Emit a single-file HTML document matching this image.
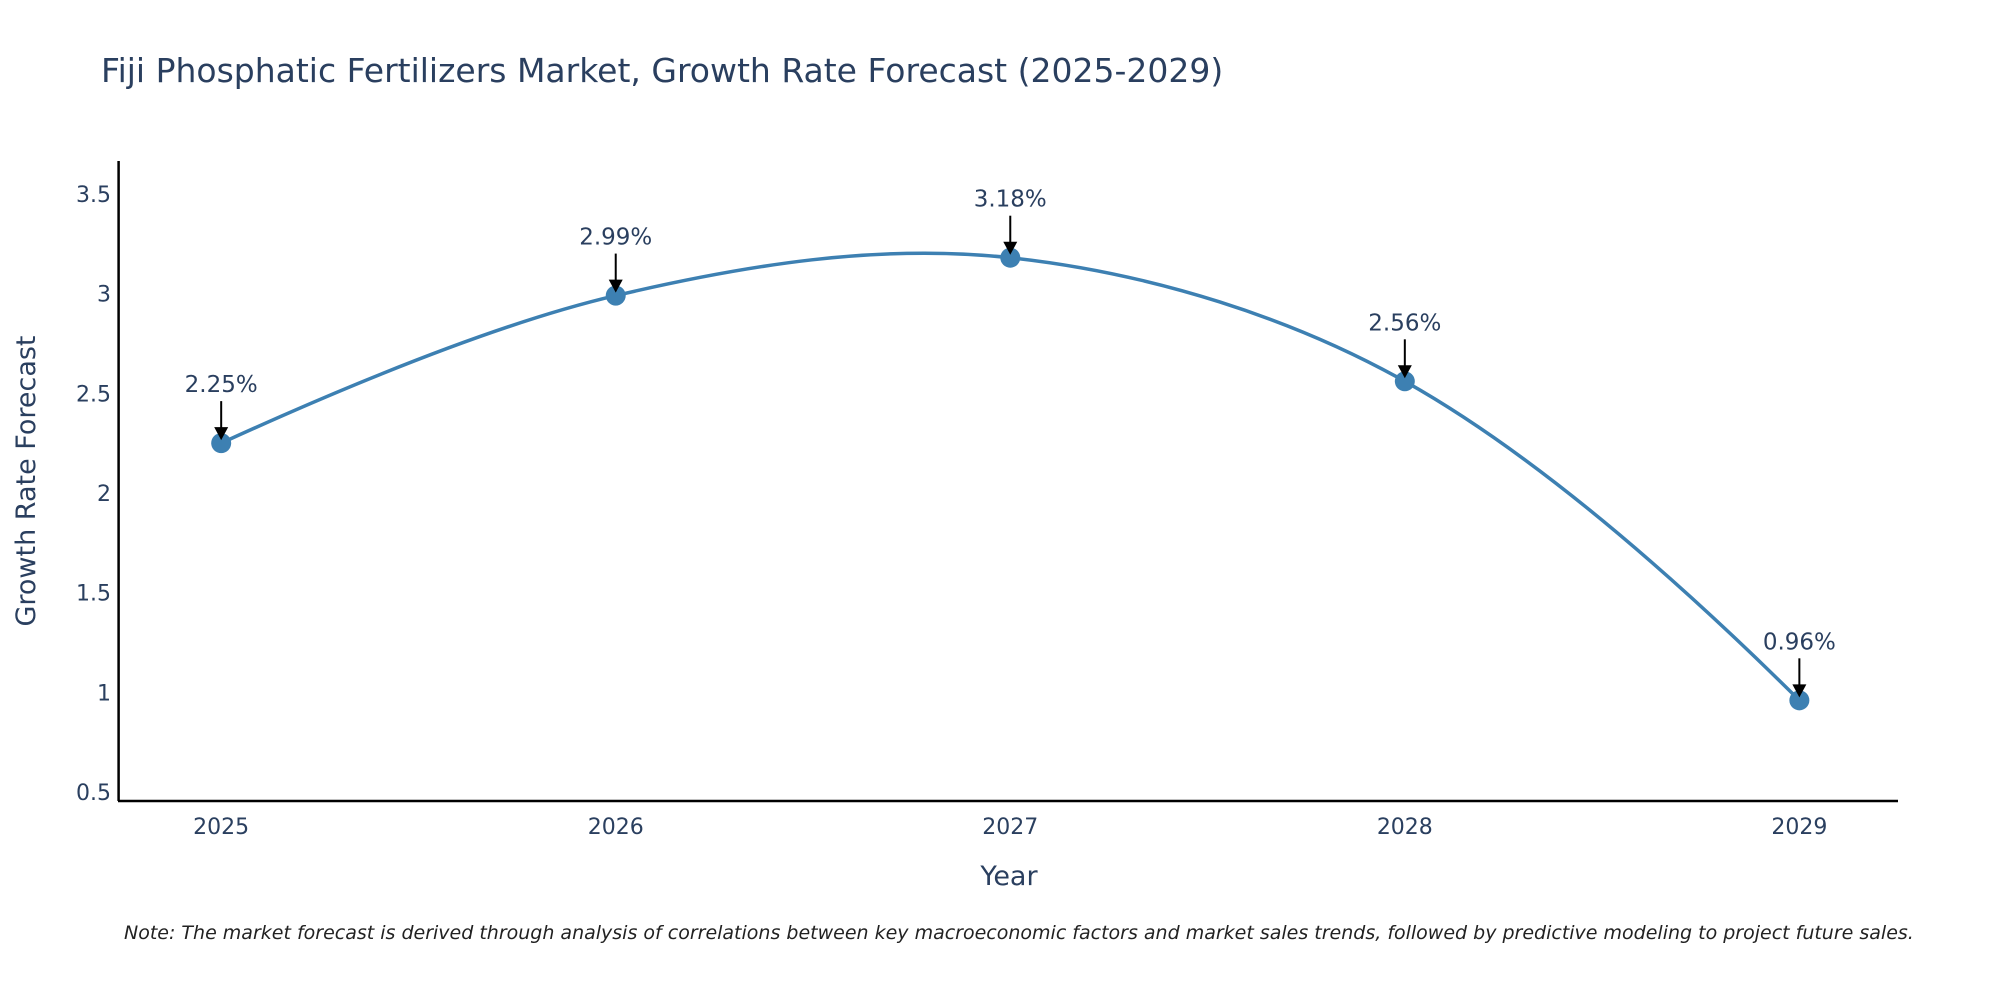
<!DOCTYPE html>
<html><head><meta charset="utf-8"><style>
body{margin:0;background:#fff;}
svg{display:block;font-family:"DejaVu Sans","Liberation Sans",sans-serif;}
</style></head><body>
<svg id="chart" width="2000" height="1000" viewBox="0 0 2000 1000">
<text x="101" y="82" font-size="33" fill="#2a3f5f">Fiji Phosphatic Fertilizers Market, Growth Rate Forecast (2025-2029)</text>
<g id="yticks"></g>
<g id="xticks"></g>
<line x1="118.6" y1="161" x2="118.6" y2="801" stroke="#000" stroke-width="2.5"/>
<line x1="118" y1="801" x2="1898" y2="801" stroke="#000" stroke-width="2.5"/>
<path id="line" fill="none" stroke="#3d80b2" stroke-width="3.5"/>
<g id="points"></g>
<g id="annots"></g>
<text transform="translate(35,481) rotate(-90)" text-anchor="middle" font-size="27" fill="#2a3f5f">Growth Rate Forecast</text>
<text x="1009" y="885" text-anchor="middle" font-size="27" fill="#2a3f5f">Year</text>
<text x="124" y="939" font-size="19" font-style="italic" fill="#222">Note: The market forecast is derived through analysis of correlations between key macroeconomic factors and market sales trends, followed by predictive modeling to project future sales.</text>
</svg>
<script>
const years = [2025, 2026, 2027, 2028, 2029];
const values = [2.25, 2.99, 3.18, 2.56, 0.96];
const labels = ["2.25%", "2.99%", "3.18%", "2.56%", "0.96%"];
const yTickValues = [0.5, 1, 1.5, 2, 2.5, 3, 3.5];
const yTickLabels = ["0.5", "1", "1.5", "2", "2.5", "3", "3.5"];

const NS = "http://www.w3.org/2000/svg";
const xMin = 2024.74, xMax = 2029.25, pxL = 118.6, pxR = 1898;
const yMin = 0.455, yMax = 3.665, pyB = 801, pyT = 161;
const xs = v => pxL + (v - xMin) / (xMax - xMin) * (pxR - pxL);
const ys = v => pyB - (v - yMin) / (yMax - yMin) * (pyB - pyT);
function mk(tag, attrs, parent) { const e = document.createElementNS(NS, tag); for (const k in attrs) e.setAttribute(k, attrs[k]); parent.appendChild(e); return e; }

const yt = document.getElementById('yticks');
yTickValues.forEach((v, i) => {
  const t = mk('text', {x: 111, y: ys(v) + 8, 'text-anchor': 'end', 'font-size': 22, fill: '#2a3f5f'}, yt);
  
  
  t.textContent = yTickLabels[i];
});
const xt = document.getElementById('xticks');
years.forEach(y => {
  const t = mk('text', {x: xs(y), y: 834, 'text-anchor': 'middle', 'font-size': 22, fill: '#2a3f5f'}, xt);
  
  
  t.textContent = y;
});

const P = years.map((y, i) => [xs(y), ys(values[i])]);
const k = 0.35;
const cps = P.map((p, i) => {
  if (i === 0 || i === P.length - 1) return [p, p];
  const a = P[i - 1], b = P[i + 1];
  const d1 = Math.hypot(p[0] - a[0], p[1] - a[1]), d2 = Math.hypot(b[0] - p[0], b[1] - p[1]);
  const dx = b[0] - a[0], dy = b[1] - a[1];
  return [[p[0] - dx * k * d1 / (d1 + d2) * 2 * d1 / (d1 + d2), p[1] - dy * k * d1 / (d1 + d2) * 2 * d1 / (d1 + d2)],
          [p[0] + dx * k * d2 / (d1 + d2) * 2 * d2 / (d1 + d2), p[1] + dy * k * d2 / (d1 + d2) * 2 * d2 / (d1 + d2)]];
});
let d = `M${P[0][0]},${P[0][1]}`;
for (let i = 0; i < P.length - 1; i++) {
  const c1 = cps[i][1], c2 = cps[i + 1][0];
  if (i === 0) d += `Q${c2[0]},${c2[1]} ${P[i+1][0]},${P[i+1][1]}`;
  else if (i === P.length - 2) d += `Q${c1[0]},${c1[1]} ${P[i+1][0]},${P[i+1][1]}`;
  else d += `C${c1[0]},${c1[1]} ${c2[0]},${c2[1]} ${P[i+1][0]},${P[i+1][1]}`;
}
document.getElementById('line').setAttribute('d', d);

const pg = document.getElementById('points'), ag = document.getElementById('annots');
P.forEach((p, i) => {
  const c = mk('circle', {cx: p[0], cy: p[1], r: 10, fill: '#3d80b2'}, pg);
  
  
  const l = mk('line', {x1: p[0], y1: p[1] - 42, x2: p[0], y2: p[1] - 14, stroke: '#000', 'stroke-width': 2}, ag);
  
  
  const h = mk('polygon', {points: `${p[0]-7},${p[1]-16} ${p[0]+7},${p[1]-16} ${p[0]},${p[1]-3}`, fill: '#000'}, ag);
  
  
  const t = mk('text', {x: p[0], y: p[1] - 51, 'text-anchor': 'middle', 'font-size': 23, fill: '#2a3f5f'}, ag);
  
  
  t.textContent = labels[i];
});
</script>
</body></html>
